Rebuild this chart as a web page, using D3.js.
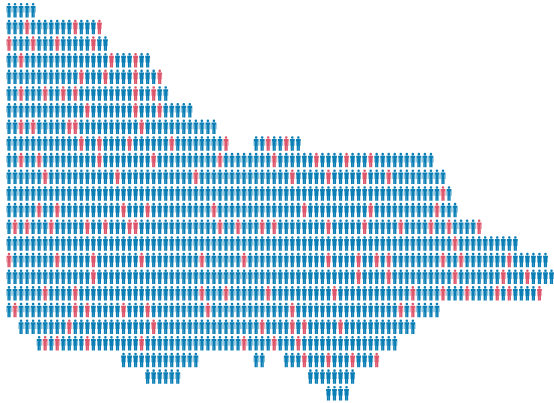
<!DOCTYPE html>
<html>
<head>
<meta charset="utf-8" />
<script src="https://cdn.jsdelivr.net/npm/d3@7"></script>
<style>
  html, body { margin: 0; padding: 0; background: #fff; }
  svg { display: block; }
</style>
</head>
<body>
<div id="my_dataviz"></div>
<script>
// column spans per row, top to bottom
const rowSpans = [
    [[0, 4]],
    [[0, 15]],
    [[0, 16]],
    [[0, 23]],
    [[0, 25]],
    [[0, 26]],
    [[0, 30]],
    [[0, 34]],
    [[0, 36], [41, 48]],
    [[0, 70]],
    [[0, 72]],
    [[0, 73]],
    [[0, 74]],
    [[0, 78]],
    [[0, 84]],
    [[0, 89]],
    [[0, 90]],
    [[0, 88]],
    [[0, 71]],
    [[2, 67]],
    [[5, 64]],
    [[19, 31], [41, 42], [46, 61]],
    [[23, 28], [50, 57]],
    [[53, 56]]
];

// columns of the red figures per row
const redColumns = [
    [],
    [3, 11, 15],
    [0, 4, 8, 14],
    [2, 17, 21],
    [12, 16, 21, 25],
    [2, 6, 9, 11, 21, 24],
    [13, 21, 25],
    [2, 4, 10, 11, 22],
    [12, 15, 20, 27, 36, 43, 46],
    [2, 5, 15, 24, 35, 44, 51, 56, 60],
    [6, 18, 31, 47, 53, 59, 63],
    [72],
    [5, 8, 19, 23, 34, 49, 60, 71],
    [1, 3, 7, 13, 16, 20, 21, 35, 38, 42, 44, 53, 59, 65, 70, 73, 78],
    [74],
    [0, 8, 14, 22, 32, 39, 53, 58, 61, 63, 72, 75, 83],
    [14, 58, 63, 74, 82, 86],
    [6, 11, 32, 36, 43, 54, 67, 72, 76, 81, 83, 88],
    [1, 11, 13, 19, 23, 33, 47, 65, 67],
    [10, 24, 42, 47, 49, 55],
    [6, 8, 13, 22, 39, 44, 48],
    [49, 53, 57, 61],
    [],
    []
];

const width = 554;
const height = 403;
const blue = "#0b7fb5";
const red = "#dc566c";

const columnCount = 91;
const x = d3.scaleLinear().domain([0, columnCount - 1]).range([9, 551.5]);
const y = d3.scaleLinear().domain([0, rowSpans.length - 1]).range([3, 386]);

// one figure, origin at top centre of the head
const figure = d3.path();
figure.arc(0, 1.3, 1.3, 0, 2 * Math.PI);
figure.moveTo(-2.4, 2.9);
figure.lineTo(2.4, 2.9);
figure.lineTo(2.4, 9.6);
figure.lineTo(1.95, 9.6);
figure.lineTo(1.95, 5);
figure.lineTo(1.6, 5);
figure.lineTo(1.6, 14.5);
figure.lineTo(0.08, 14.5);
figure.lineTo(0.08, 9.8);
figure.lineTo(-0.08, 9.8);
figure.lineTo(-0.08, 14.5);
figure.lineTo(-1.6, 14.5);
figure.lineTo(-1.6, 5);
figure.lineTo(-1.95, 5);
figure.lineTo(-1.95, 9.6);
figure.lineTo(-2.4, 9.6);
figure.closePath();

const people = rowSpans.flatMap((spans, row) =>
    spans.flatMap(([from, to]) =>
        d3.range(from, to + 1).map(column => ({
            row,
            column,
            isRed: redColumns[row].includes(column)
        }))
    )
);

const svg = d3.select("#my_dataviz")
    .append("svg")
    .attr("width", width)
    .attr("height", height);

svg.selectAll("path")
    .data(people)
    .enter()
    .append("path")
    .attr("d", figure.toString())
    .attr("transform", d => `translate(${x(d.column)},${y(d.row)})`)
    .attr("fill", d => d.isRed ? red : blue);
</script>
</body>
</html>
